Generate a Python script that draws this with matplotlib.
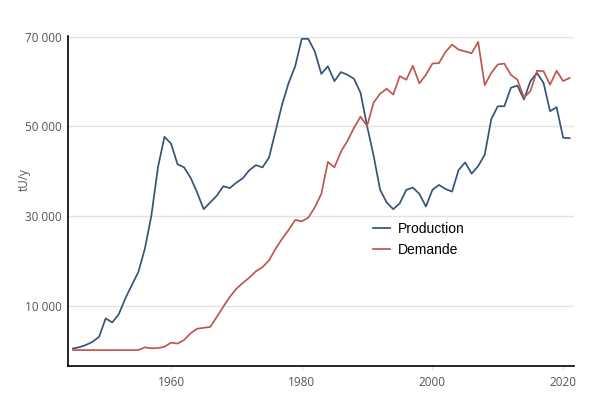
import numpy as np
import matplotlib
matplotlib.use("Agg")
import matplotlib.pyplot as plt
from matplotlib.ticker import FuncFormatter

# years 1945 .. 2021
years = np.arange(1945, 2022)

production = [600, 900, 1400, 2100, 3200, 7300, 6400, 8200, 11700, 14700,
              17600, 22800, 30200, 40900, 47700, 46200, 41600, 40900, 38600, 35300,
              31600, 33100, 34600, 36700, 36300, 37500, 38500, 40300, 41400, 40900,
              43100, 49000, 54900, 59700, 63400, 69500, 69500, 66700, 61700, 63400,
              60100, 62100, 61500, 60600, 57500, 50100, 43500, 35900, 33100, 31600,
              32900, 35900, 36400, 35000, 32200, 35900, 37000, 36100, 35500, 40300,
              42000, 39500, 41200, 43700, 51600, 54500, 54500, 58600, 59100, 56000,
              60100, 61900, 59700, 53400, 54300, 47500, 47400]

demande = [250, 250, 250, 250, 250, 250, 250, 250, 250, 250,
           250, 860, 640, 700, 1000, 1900, 1700, 2500, 4000, 5000,
           5200, 5400, 7600, 9900, 12100, 13900, 15200, 16400, 17800, 18700,
           20200, 22800, 25000, 27000, 29200, 28900, 29700, 32000, 35000, 42100,
           40900, 44400, 46800, 49700, 52200, 50100, 55300, 57300, 58400, 57100,
           61200, 60400, 63500, 59600, 61500, 64000, 64100, 66600, 68200, 67100,
           66700, 66300, 68800, 59200, 61900, 63800, 64000, 61500, 60400, 56400,
           57900, 62400, 62300, 59300, 62400, 60100, 60800]

y_ticks = [10000, 30000, 50000, 70000]
x_ticks = [1960, 1980, 2000, 2020]

fig = plt.figure(figsize=(6, 4.15), dpi=100)
ax = fig.add_axes([0.114, 0.118, 0.842, 0.796])

ax.plot(years, production, color="#34557a", lw=1.25, label="Production")
ax.plot(years, demande, color="#c0574f", lw=1.25, label="Demande")

ax.set_xlim(1944.3, 2021.6)
ax.set_ylim(-3300, 70200)
ax.set_yticks(y_ticks)
ax.set_xticks(x_ticks)
ax.yaxis.set_major_formatter(FuncFormatter(lambda v, p: f"{int(v):,}".replace(",", " ")))

ax.grid(axis="y", color="#e3e3e3", lw=1)
ax.set_axisbelow(True)
for s in ["top", "right"]:
    ax.spines[s].set_visible(False)
for s in ["left", "bottom"]:
    ax.spines[s].set_color("black")
    ax.spines[s].set_linewidth(1.2)

ax.tick_params(axis="y", length=0, pad=5, labelsize=8.5, labelcolor="#555555")
ax.tick_params(axis="x", length=3, color="#dddddd", pad=4, labelsize=8.5, labelcolor="#555555")
for lab in ax.get_xticklabels() + ax.get_yticklabels():
    lab.set_family("Open Sans")

ax.set_ylabel("tU/y", fontsize=8.5, color="#555555", family="Open Sans")
ax.yaxis.set_label_coords(-0.075, 0.565)

ax.legend(loc="upper left", bbox_to_anchor=(0.578, 0.475), frameon=False,
          prop={"family": "Liberation Sans", "size": 10}, handlelength=1.2,
          handletextpad=0.6, labelspacing=0.5)

fig.savefig("out.png", dpi=100)
